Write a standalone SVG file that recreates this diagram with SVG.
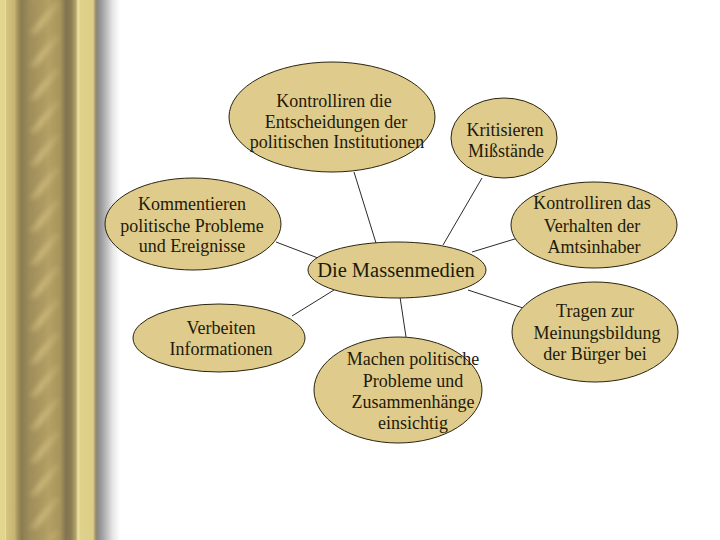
<svg xmlns="http://www.w3.org/2000/svg" width="720" height="540" viewBox="0 0 720 540">
<defs>
<linearGradient id="pillar" x1="0" y1="0" x2="97" y2="0" gradientUnits="userSpaceOnUse">
<stop offset="0" stop-color="#e2d68e"/>
<stop offset="0.05" stop-color="#e2d58d"/>
<stop offset="0.055" stop-color="#efe4a4"/>
<stop offset="0.065" stop-color="#d4c47e"/>
<stop offset="0.15" stop-color="#c6b474"/>
<stop offset="0.18" stop-color="#a6965e"/>
<stop offset="0.22" stop-color="#8a7c50"/>
<stop offset="0.3" stop-color="#9e8c5a"/>
<stop offset="0.5" stop-color="#b4a064"/>
<stop offset="0.62" stop-color="#a8955c"/>
<stop offset="0.68" stop-color="#837450"/>
<stop offset="0.73" stop-color="#8a7c52"/>
<stop offset="0.78" stop-color="#b2a268"/>
<stop offset="0.805" stop-color="#eee2a2"/>
<stop offset="0.83" stop-color="#e0d28a"/>
<stop offset="0.96" stop-color="#dccd88"/>
<stop offset="0.98" stop-color="#a89a70"/>
<stop offset="1" stop-color="#8a8470"/>
</linearGradient>
<linearGradient id="shadow" x1="0" y1="0" x2="1" y2="0">
<stop offset="0" stop-color="#808080"/>
<stop offset="0.25" stop-color="#a0a0a0"/>
<stop offset="0.7" stop-color="#e6e6e6"/>
<stop offset="1" stop-color="#ffffff"/>
</linearGradient>
<filter id="soft" x="-20%" y="-20%" width="140%" height="140%">
<feGaussianBlur stdDeviation="2.6"/>
</filter>
<pattern id="streaks" x="0" y="0" width="97" height="33" patternUnits="userSpaceOnUse">
<path d="M28 33 L56 2 L62 4 L36 34 Z" fill="#f0dc98" opacity="0.45"/>
<path d="M28 0 L31 -1 L36 1 L34 2 Z" fill="#f0dc98" opacity="0.45"/>
</pattern>
<linearGradient id="streakfade" x1="0" y1="0" x2="1" y2="0">
<stop offset="0" stop-color="#fff" stop-opacity="0"/>
<stop offset="0.45" stop-color="#fff" stop-opacity="1"/>
<stop offset="1" stop-color="#fff" stop-opacity="0"/>
</linearGradient>
<mask id="streakmask"><rect x="20" y="0" width="46" height="540" fill="url(#streakfade)"/></mask>
</defs>
<style>
.node ellipse { fill: #dfcb8c; stroke: #2a2410; stroke-width: 1; }
.node text { font-family: "Liberation Serif", "Times New Roman", serif; font-size: 18px; fill: #1e1a08; text-anchor: middle; }
.conn line { stroke: #2a2a2a; stroke-width: 1; }
</style>
<rect x="0" y="0" width="720" height="540" fill="#ffffff"/>
<g id="background">
<rect x="96" y="0" width="24" height="540" fill="url(#shadow)"/>
<rect x="0" y="0" width="97" height="540" fill="url(#pillar)"/>
<g mask="url(#streakmask)">
<rect x="0" y="0" width="97" height="540" fill="url(#streaks)" filter="url(#soft)"/>
</g>
</g>
<g class="conn" id="connectors">
<line x1="354" y1="172" x2="376" y2="243"/>
<line x1="482" y1="178" x2="443" y2="245"/>
<line x1="276" y1="242" x2="318" y2="258"/>
<line x1="518" y1="238" x2="472" y2="252"/>
<line x1="292" y1="316" x2="334" y2="290"/>
<line x1="400" y1="297" x2="406" y2="337"/>
<line x1="468" y1="290" x2="523" y2="308"/>
</g>
<g class="node" id="n-kontrolle-entscheidungen">
<ellipse cx="332" cy="117" rx="103" ry="55"/>
<text x="334" y="107">Kontrolliren die</text>
<text x="336" y="128">Entscheidungen  der</text>
<text x="337" y="148">politischen Institutionen</text>
</g>
<g class="node" id="n-kritisieren">
<ellipse cx="504" cy="138" rx="53" ry="40"/>
<text x="505" y="136">Kritisieren</text>
<text x="506" y="157">Mißstände</text>
</g>
<g class="node" id="n-kommentieren">
<ellipse cx="193" cy="224" rx="88" ry="46"/>
<text x="192" y="210">Kommentieren</text>
<text x="192" y="232">politische Probleme</text>
<text x="192" y="252">und Ereignisse</text>
</g>
<g class="node" id="n-kontrolle-amtsinhaber">
<ellipse cx="594" cy="225" rx="83" ry="43"/>
<text x="592" y="209">Kontrolliren das</text>
<text x="592" y="232">Verhalten der</text>
<text x="594" y="253">Amtsinhaber</text>
</g>
<g class="node" id="n-massenmedien">
<ellipse cx="397" cy="270" rx="89" ry="28"/>
<text x="396" y="277" style="font-size:20.5px">Die Massenmedien</text>
</g>
<g class="node" id="n-verbeiten">
<ellipse cx="219" cy="338" rx="86" ry="34"/>
<text x="221" y="334">Verbeiten</text>
<text x="221" y="355">Informationen</text>
</g>
<g class="node" id="n-machen">
<ellipse cx="398" cy="390" rx="84" ry="53"/>
<text x="413" y="365">Machen politische</text>
<text x="413" y="387">Probleme und</text>
<text x="413" y="408">Zusammenhänge</text>
<text x="413" y="429">einsichtig</text>
</g>
<g class="node" id="n-tragen">
<ellipse cx="595" cy="332" rx="83" ry="50"/>
<text x="595" y="317">Tragen zur</text>
<text x="597" y="339">Meinungsbildung</text>
<text x="595" y="360">der Bürger bei</text>
</g>
</svg>
